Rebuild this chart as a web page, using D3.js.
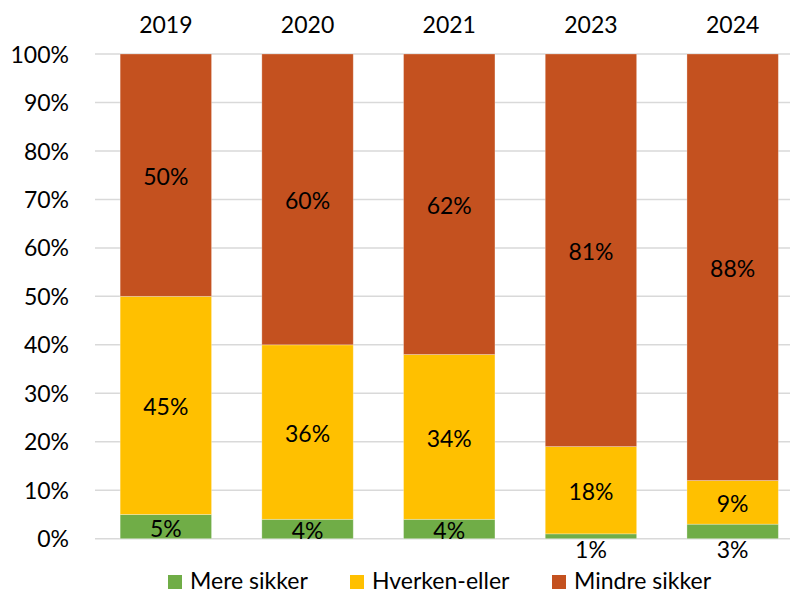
<!DOCTYPE html>
<html>
<head>
<meta charset="utf-8">
<script src="https://cdn.jsdelivr.net/npm/d3@7"></script>
<style>
  html, body { margin: 0; padding: 0; background: #fff; }
  svg { display: block; }
  text { font-family: Lato, "Open Sans", sans-serif; fill: #000; }
</style>
</head>
<body>
<svg id="chart" width="790" height="593"></svg>
<script>
const years = ["2019", "2020", "2021", "2023", "2024"];
const seriesNames = ["Mere sikker", "Hverken-eller", "Mindre sikker"];
const mereSikker = [5, 4, 4, 1, 3];
const hverkenEller = [45, 36, 34, 18, 9];
const mindreSikker = [50, 60, 62, 81, 88];
const colors = ["#70AD47", "#FFC000", "#C4511F"];
const yTicks = [0, 10, 20, 30, 40, 50, 60, 70, 80, 90, 100];
// labels that sit below the axis (small segments)
const labelBelow = [false, false, false, true, true];

const svg = d3.select("#chart");
const fontSize = 23;

const x = d3.scaleBand().domain(years).range([95, 803.5]).paddingInner(0.355).paddingOuter(0.1775);
const y = d3.scaleLinear().domain([0, 100]).range([538.7, 54]);

const table = years.map((yr, i) => ({
  year: yr,
  "Mere sikker": mereSikker[i],
  "Hverken-eller": hverkenEller[i],
  "Mindre sikker": mindreSikker[i],
  idx: i
}));
const stacked = d3.stack().keys(seriesNames)(table);

// gridlines
svg.append("g")
  .selectAll("line")
  .data(yTicks)
  .join("line")
  .attr("x1", 95).attr("x2", 790)
  .attr("y1", d => y(d)).attr("y2", d => y(d))
  .attr("stroke", "#D9D9D9").attr("stroke-width", 1.5);

// y axis labels
const yAxis = d3.axisLeft(y).tickValues(yTicks).tickFormat(d => d + "%").tickSize(0).tickPadding(0);
const ya = svg.append("g").attr("transform", "translate(69,0)").call(yAxis);
ya.select(".domain").remove();
ya.selectAll("text").attr("font-size", fontSize).attr("font-family", "Lato, sans-serif").attr("fill", "#000").attr("dy", "0.35em");

// top year labels
const xAxis = d3.axisTop(x).tickSize(0).tickPadding(0);
const xa = svg.append("g").attr("transform", "translate(0,24.5)").call(xAxis);
xa.select(".domain").remove();
xa.selectAll("text").attr("font-size", fontSize).attr("font-family", "Lato, sans-serif").attr("fill", "#000").attr("dy", "0.35em");

// bars
const layers = svg.append("g").selectAll("g")
  .data(stacked)
  .join("g")
  .attr("fill", (d, i) => colors[i]);

layers.selectAll("rect")
  .data(d => d)
  .join("rect")
  .attr("x", d => x(d.data.year))
  .attr("width", x.bandwidth())
  .attr("y", d => y(d[1]))
  .attr("height", d => y(d[0]) - y(d[1]))
  .attr("stroke", "rgba(255,255,255,0.35)")
  .attr("stroke-width", 0.8);

// data labels
const labels = svg.append("g");
stacked.forEach((layer, si) => {
  layer.forEach(d => {
    const i = d.data.idx;
    const v = d[1] - d[0];
    let cy = y((d[0] + d[1]) / 2) + 2;
    if (si === 0 && labelBelow[i]) cy = 550;
    labels.append("text")
      .attr("x", x(d.data.year) + x.bandwidth() / 2)
      .attr("y", cy)
      .attr("dy", "0.35em")
      .attr("text-anchor", "middle")
      .attr("font-size", fontSize)
      .text(v + "%");
  });
});

// legend
const legendX = d3.scalePoint().domain(seriesNames).range([168, 552]);
const legendOffsets = { "Mere sikker": 0, "Hverken-eller": -10, "Mindre sikker": 0 };
const legend = svg.append("g");
const items = legend.selectAll("g").data(seriesNames).join("g")
  .attr("transform", d => `translate(${legendX(d) + legendOffsets[d]},0)`);
items.append("rect").attr("width", 14).attr("height", 14).attr("y", 575).attr("fill", (d, i) => colors[i]);
items.append("text").attr("x", 22).attr("y", 588.5).attr("font-size", fontSize).text(d => d);
</script>
</body>
</html>
